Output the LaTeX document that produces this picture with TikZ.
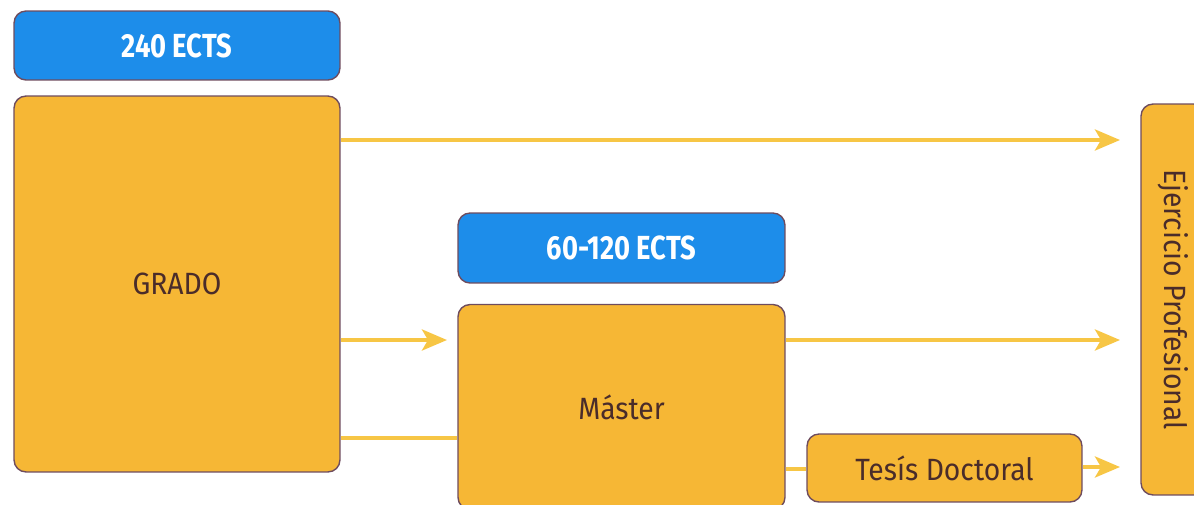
\documentclass[tikz,border=0pt]{standalone}
\usepackage{fontspec}
\setmainfont{Fira Sans}[FakeStretch=0.92]
\newfontfamily\ectsfont[FakeStretch=0.82]{Fira Sans}
\usepackage{xcolor}
\usepackage{tikz}
\usetikzlibrary{arrows.meta}

\definecolor{boxfill}{HTML}{F6B735}
\definecolor{boxline}{HTML}{6E4C5E}
\definecolor{ectsblue}{HTML}{1D8DEA}
\definecolor{arrowcol}{HTML}{F7C645}
\definecolor{boxtext}{HTML}{4A2C2A}

\begin{document}
\begin{tikzpicture}[x=0.02cm, y=-0.02cm,
    etapa/.style={draw=boxline, line width=0.8pt, fill=boxfill, rounded corners=0.24cm,
        text=boxtext, font=\fontsize{17.5}{19}\selectfont, inner sep=0pt},
    ects/.style={draw=boxline, line width=0.8pt, fill=ectsblue, rounded corners=0.24cm,
        text=white, font=\ectsfont\bfseries\fontsize{19}{21}\selectfont,
        minimum width=6.52cm, minimum height=1.38cm, inner sep=0pt},
    flecha/.style={draw=arrowcol, line width=0.08cm,
        -{Stealth[length=0.5cm, width=0.42cm, inset=0.12cm]}},
    enlace/.style={draw=arrowcol, line width=0.08cm}]

    \useasboundingbox (0,0) rectangle (1194,504);
    \clip (0,0) rectangle (1194,504);

    \node[ects] (ects240) at (177,45.5) {240 ECTS};
    \node[etapa, minimum width=6.52cm, minimum height=7.52cm] (grado) at (177,284) {GRADO};

    \node[ects, minimum width=6.54cm, minimum height=1.4cm] (ects60) at (621.5,248) {60-120 ECTS};
    \node[etapa, minimum width=6.54cm, minimum height=4.1cm] (master) at (621.5,407) {Máster};

    \node[etapa, minimum width=5.5cm, minimum height=1.36cm] (tesis) at (944.5,468) {Tesís Doctoral};

    \node[etapa, rotate=-90, minimum width=7.82cm, minimum height=1.3cm] (ejercicio) at (1173.5,299.5) {Ejercicio Profesional};

    % conexiones
    \coordinate (c1) at (1120,140);
    \coordinate (c2) at (447,340);
    \coordinate (c3) at (1120,340);
    \coordinate (c4) at (1120,467);

    \draw[flecha] (grado.east |- c1) -- (c1);
    \draw[flecha] (grado.east |- c2) -- (c2);
    \draw[enlace] (grado.east |- 0,438) -- (master.west |- 0,438);
    \draw[flecha] (master.east |- c3) -- (c3);
    \draw[enlace] (master.east |- 0,469) -- (tesis.west |- 0,469);
    \draw[flecha] (tesis.east |- c4) -- (c4);
\end{tikzpicture}
\end{document}
